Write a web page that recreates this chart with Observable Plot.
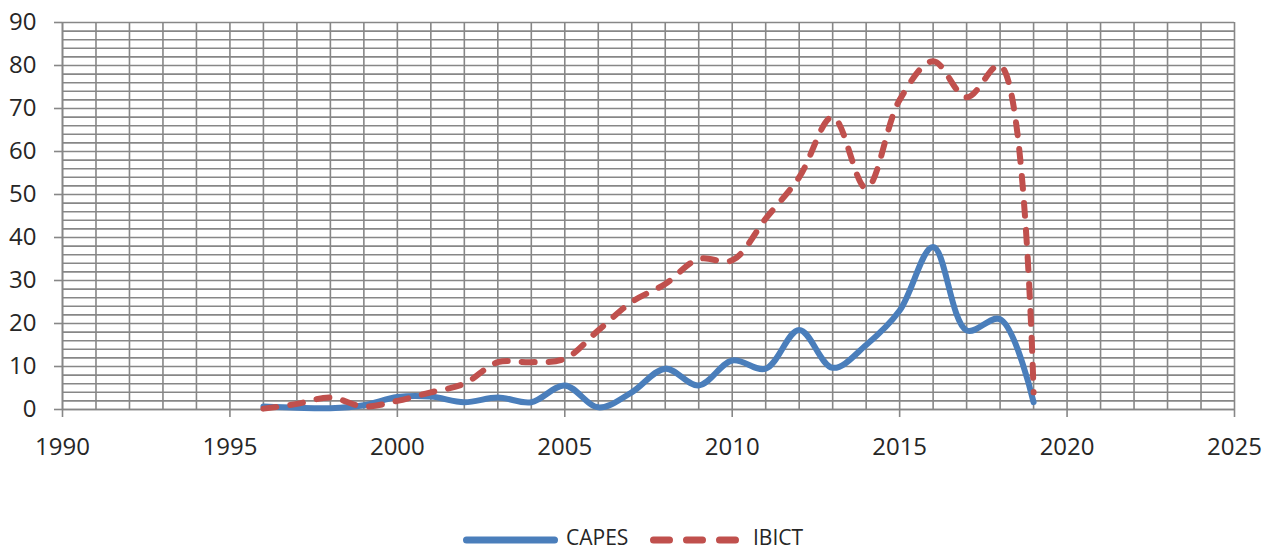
<!DOCTYPE html>
<html>
<head>
<meta charset="utf-8">
<script src="https://cdn.jsdelivr.net/npm/d3@7"></script>
<script src="https://cdn.jsdelivr.net/npm/@observablehq/plot@0.6"></script>
<style>
  html, body { margin: 0; padding: 0; background: #fff; }
  body { width: 1263px; font-family: "Open Sans", sans-serif; }
  svg { display: block; }
</style>
</head>
<body>
<div id="chart"></div>
<div id="legend"></div>
<script>
const years = [1996,1997,1998,1999,2000,2001,2002,2003,2004,2005,2006,2007,2008,2009,2010,2011,2012,2013,2014,2015,2016,2017,2018,2019];
const capes = [0.7,0.4,0.3,1,2.9,3,1.7,2.8,1.7,5.6,0.5,4,9.5,5.6,11.4,9.5,18.5,9.7,15,23,37.8,18.4,21,1.7];
const ibict = [0.2,1.3,2.8,0.7,2,4,6,11,11,11.8,18.4,25,29.2,35,34.7,44.4,54,68,51.5,72,81,72.6,80,4];
const seriesNames = ["CAPES", "IBICT"];
const seriesColors = ["#4a7ebb", "#c0504d"];
const xTicks = [1990,1995,2000,2005,2010,2015,2020,2025];
const yTicks = [0,10,20,30,40,50,60,70,80,90];

const rows = [];
years.forEach((y, i) => {
  rows.push({year: y, value: capes[i], series: seriesNames[0]});
  rows.push({year: y, value: ibict[i], series: seriesNames[1]});
});

const gridCol = "#878787";
const chart = Plot.plot({
  width: 1263,
  height: 480,
  marginLeft: 62,
  marginRight: 29,
  marginTop: 22,
  marginBottom: 71,
  style: {fontFamily: "Open Sans", fontSize: "24px", color: "#262626", background: "#fff"},
  x: {domain: [1990, 2025]},
  y: {domain: [0, 90]},
  marks: [
    Plot.gridX(d3.range(1990, 2026), {stroke: gridCol, strokeOpacity: 1, strokeWidth: 1.6}),
    Plot.gridY(d3.range(0, 91, 2), {stroke: gridCol, strokeOpacity: 1, strokeWidth: 1.6}),
    Plot.ruleY([0], {stroke: gridCol, strokeWidth: 1.6}),
    Plot.ruleX([1990], {stroke: gridCol, strokeWidth: 1.6}),
    Plot.axisX(xTicks, {tickSize: 8, tickPadding: 20, stroke: gridCol, strokeWidth: 1.6, fill: "#262626", tickFormat: d => String(d), label: null}),
    Plot.axisY(yTicks, {tickSize: 8, tickPadding: 18, stroke: gridCol, strokeWidth: 1.6, fill: "#262626", label: null}),
    Plot.line(rows.filter(d => d.series === "CAPES"), {x: "year", y: "value", stroke: seriesColors[0], strokeWidth: 6, curve: "catmull-rom", strokeLinecap: "round", strokeLinejoin: "round"}),
    Plot.line(rows.filter(d => d.series === "IBICT"), {x: "year", y: "value", stroke: seriesColors[1], strokeWidth: 6, curve: "catmull-rom", strokeDasharray: "13,14", strokeLinecap: "round", strokeLinejoin: "round"})
  ]
});
document.getElementById("chart").appendChild(chart);

// Legend below the chart
const leg = d3.create("svg").attr("width", 1263).attr("height", 73)
  .style("font-family", "Open Sans").style("font-size", "21px");
const ly = 58;
const items = [
  {x1: 466.5, x2: 554.5, tx: 566, dash: null},
  {x1: 653.5, x2: 739.5, tx: 753, dash: "16,17"}
];
items.forEach((it, i) => {
  const ln = leg.append("line").attr("x1", it.x1).attr("x2", it.x2).attr("y1", ly + 2).attr("y2", ly + 2)
    .attr("stroke", seriesColors[i]).attr("stroke-width", 7).attr("stroke-linecap", "round");
  if (it.dash) ln.attr("stroke-dasharray", it.dash);
  leg.append("text").attr("x", it.tx).attr("y", ly).attr("dy", "0.35em")
    .attr("fill", "#262626").text(seriesNames[i]);
});
document.getElementById("legend").appendChild(leg.node());
</script>
</body>
</html>
